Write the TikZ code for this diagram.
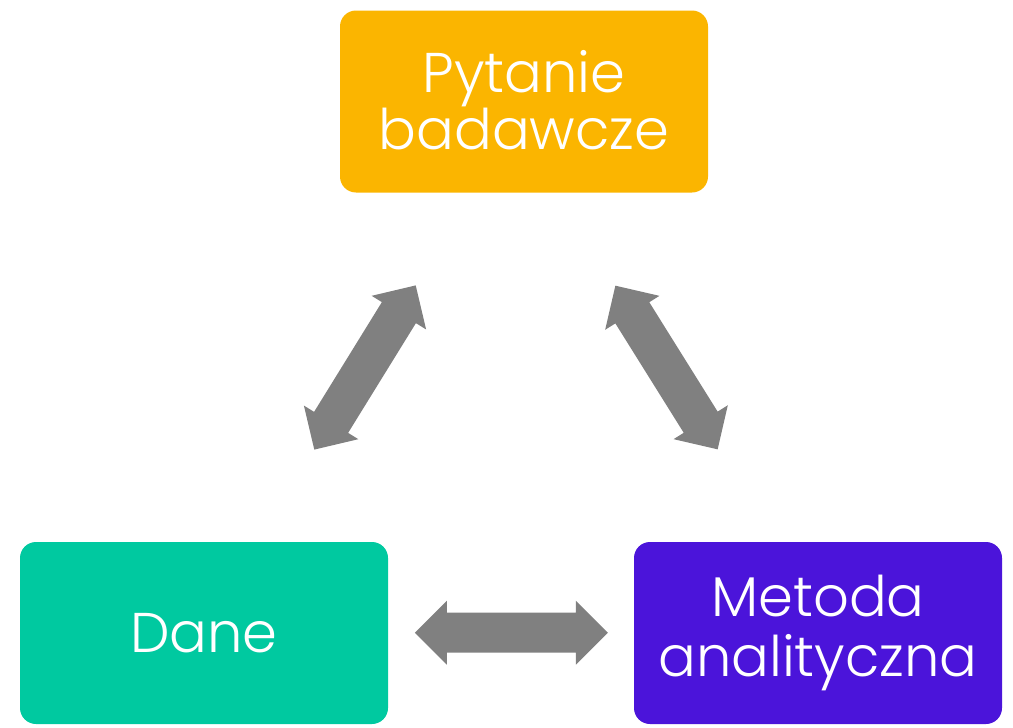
\documentclass[tikz,border=0pt]{standalone}
\usepackage{fontspec}
\setmainfont{Poppins}[UprightFont=* Light]
\definecolor{orangebox}{HTML}{FBB500}
\definecolor{tealbox}{HTML}{00C9A0}
\definecolor{purplebox}{HTML}{4B14DA}
\definecolor{arrowgray}{HTML}{808080}
\begin{document}
\begin{tikzpicture}[x=1pt,y=-1pt,
  box/.style={rounded corners=16pt, minimum width=368pt, minimum height=182pt,
    text=white, align=center, inner sep=0pt,
    font=\fontsize{56}{60}\selectfont},
  dblarrow/.pic={\fill[arrowgray] (-96.5,0) -- (-64.5,-32) -- (-64.5,-20) -- (64.5,-20) -- (64.5,-32)
     -- (96.5,0) -- (64.5,32) -- (64.5,20) -- (-64.5,20) -- (-64.5,32) -- cycle;}]
\useasboundingbox (0,0) rectangle (1013,728);
\node[box, fill=orangebox] (q) at (524,101.5) {\raisebox{3pt}{\shortstack{Pytanie\\[-1pt]badawcze}}};
\node[box, fill=tealbox] (d) at (204,633) {Dane};
\node[box, fill=purplebox] (m) at (818,633) {Metoda\\analityczna};
\pic[rotate=58.3] (qd) at (365,367.5) {dblarrow};
\pic[rotate=-58.0] (qm) at (666.5,367.5) {dblarrow};
\pic (dm) at (511.3,632.7) {dblarrow};
\end{tikzpicture}
\end{document}
